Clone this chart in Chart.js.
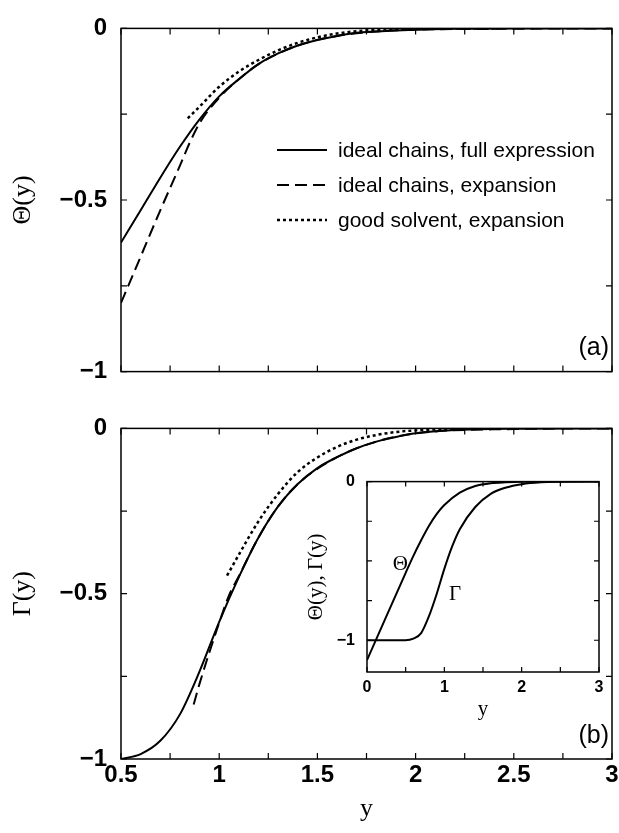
<!DOCTYPE html>
<html>
<head>
<meta charset="utf-8">
<script src="https://cdn.jsdelivr.net/npm/chart.js@4.4.0/dist/chart.umd.min.js"></script>
<style>
  body { margin: 0; background: #fff; }
  #wrap { position: relative; width: 619px; height: 833px; }
  canvas { position: absolute; }
</style>
</head>
<body>
<div id="wrap">
  <canvas id="chartA" width="619" height="400" style="left:0;top:0"></canvas>
  <canvas id="chartB" width="619" height="433" style="left:0;top:400px"></canvas>
  <canvas id="chartC" width="322" height="265" style="left:290px;top:460px"></canvas>
</div>
<script>
/* values */
const yFull       = [0.5, 0.6, 0.7, 0.8, 0.9, 1.0, 1.1, 1.2, 1.3, 1.4, 1.5, 1.6, 1.7, 1.8, 1.9, 2.0, 2.2, 2.5, 3.0];
const thetaFull   = [-0.624, -0.530, -0.435, -0.345, -0.265, -0.198, -0.148, -0.104, -0.073, -0.050, -0.034, -0.022, -0.013, -0.009, -0.006, -0.004, -0.001, 0, 0];
const yThetaExp   = [0.5, 0.6, 0.7, 0.8, 0.85, 0.9, 1.0, 1.1, 1.2, 1.4, 1.6, 1.8, 2.0, 2.5, 3.0];
const thetaExp    = [-0.80, -0.665, -0.530, -0.40, -0.333, -0.276, -0.202, -0.148, -0.104, -0.050, -0.022, -0.009, -0.004, -0.001, 0];
const yThetaGood  = [0.84, 0.9, 1.0, 1.1, 1.2, 1.3, 1.4, 1.5, 1.6, 1.7, 1.8, 2.0, 2.42];
const thetaGood   = [-0.262, -0.228, -0.170, -0.126, -0.092, -0.064, -0.042, -0.026, -0.015, -0.008, -0.004, -0.001, 0];

const gammaFull   = [-1.0, -0.985, -0.945, -0.865, -0.735, -0.585, -0.45, -0.33, -0.236, -0.168, -0.120, -0.087, -0.060, -0.040, -0.026, -0.015, -0.005, -0.001, 0];
const yGammaExp   = [0.87, 0.9, 1.0, 1.05, 1.1, 1.2, 1.3, 1.4, 1.6, 1.8, 2.0, 2.5, 3.0];
const gammaExp    = [-0.835, -0.772, -0.588, -0.505, -0.447, -0.33, -0.236, -0.168, -0.087, -0.040, -0.015, -0.002, 0];
const yGammaGood  = [1.04, 1.1, 1.2, 1.3, 1.4, 1.5, 1.6, 1.7, 1.8, 1.9, 2.0, 2.2];
const gammaGood   = [-0.445, -0.382, -0.281, -0.198, -0.132, -0.088, -0.056, -0.034, -0.020, -0.011, -0.006, -0.001];

/* inset */
const yInsetTheta = [0, 0.25, 0.5, 0.6, 0.7, 0.8, 0.9, 1.0, 1.2, 1.4, 1.6, 1.8, 2.0, 2.5, 3.0];
const insetTheta  = [-1.125, -0.85, -0.575, -0.468, -0.37, -0.28, -0.205, -0.148, -0.07, -0.028, -0.01, -0.004, -0.001, 0, 0];
const yInsetGamma = [0, 0.25, 0.5, 0.6, 0.7, 0.8, 0.9, 1.0, 1.1, 1.2, 1.4, 1.6, 1.8, 2.0, 2.25, 2.5, 3.0];
const insetGamma  = [-1, -1, -1, -0.99, -0.955, -0.85, -0.71, -0.55, -0.41, -0.30, -0.16, -0.077, -0.037, -0.016, -0.004, -0.001, 0];

const legendLabels = ['ideal chains, full expression', 'ideal chains, expansion', 'good solvent, expansion'];

const SANS  = '"Liberation Sans", Arial, Helvetica, sans-serif';
const SERIF = '"Liberation Serif", "Times New Roman", serif';

const pts = (xs, ys) => xs.map((x, i) => ({ x: x, y: ys[i] }));

const solid  = { borderColor: '#000', borderWidth: 2, pointRadius: 0, fill: false, cubicInterpolationMode: 'monotone' };
const dashed = Object.assign({}, solid, { borderDash: [12, 6] });
const dotted = Object.assign({}, solid, { borderDash: [3, 3], borderWidth: 2.5 });

// label only every "step", with a real minus sign
function labelEvery(step) {
  return function (v) {
    const k = v / step;
    if (Math.abs(k - Math.round(k)) > 1e-6) return '';
    return String(Math.round(v * 100) / 100).replace('-', '\u2212');
  };
}

// frame with inward ticks on all four sides
const framePlugin = {
  id: 'frame',
  afterDraw(chart, args, opts) {
    const ctx = chart.ctx, a = chart.chartArea;
    const len = opts.len || 6;
    const sx = chart.scales.x, sy = chart.scales.y;
    ctx.save();
    ctx.strokeStyle = '#000';
    ctx.lineWidth = 1.5;
    ctx.strokeRect(a.left, a.top, a.right - a.left, a.bottom - a.top);
    ctx.lineWidth = 1.2;
    ctx.beginPath();
    sx.ticks.forEach(t => {
      const px = sx.getPixelForValue(t.value);
      ctx.moveTo(px, a.bottom); ctx.lineTo(px, a.bottom - len);
      ctx.moveTo(px, a.top);    ctx.lineTo(px, a.top + len);
    });
    sy.ticks.forEach(t => {
      const py = sy.getPixelForValue(t.value);
      ctx.moveTo(a.left, py);  ctx.lineTo(a.left + len, py);
      ctx.moveTo(a.right, py); ctx.lineTo(a.right - len, py);
    });
    ctx.stroke();
    ctx.restore();
  }
};

// panel tag, legend, curve names
const notesPlugin = {
  id: 'notes',
  afterDraw(chart, args, opts) {
    const ctx = chart.ctx, a = chart.chartArea;
    ctx.save();
    ctx.fillStyle = '#000';
    ctx.strokeStyle = '#000';
    if (opts.tag) {
      ctx.font = '25px ' + SANS;
      ctx.textAlign = 'right';
      ctx.textBaseline = 'middle';
      ctx.fillText(opts.tag, a.right - 3, a.bottom - 23);
    }
    if (opts.legend) {
      const rows = [150, 185, 220];
      chart.data.datasets.forEach((ds, i) => {
        ctx.lineWidth = ds.borderWidth;
        ctx.setLineDash(ds.borderDash || []);
        ctx.beginPath();
        ctx.moveTo(277, rows[i]); ctx.lineTo(327, rows[i]);
        ctx.stroke();
        ctx.setLineDash([]);
        ctx.font = '21px ' + SANS;
        ctx.textAlign = 'left';
        ctx.textBaseline = 'middle';
        ctx.fillText(ds.label, 338, rows[i] + 1);
      });
    }
    if (opts.names) {
      ctx.font = '21px ' + SERIF;
      ctx.textAlign = 'center';
      ctx.textBaseline = 'middle';
      opts.names.forEach(n => {
        ctx.fillText(n.text, chart.scales.x.getPixelForValue(n.x), chart.scales.y.getPixelForValue(n.y));
      });
    }
    ctx.restore();
  }
};

Chart.register(framePlugin, notesPlugin);

const base = { responsive: false, animation: false, devicePixelRatio: 1, events: [] };
const noGrid = { display: false, drawTicks: false };

// panel (a)
new Chart(document.getElementById('chartA'), {
  type: 'line',
  data: {
    datasets: [
      Object.assign({ label: legendLabels[0], data: pts(yFull, thetaFull) }, solid),
      Object.assign({ label: legendLabels[1], data: pts(yThetaExp, thetaExp) }, dashed),
      Object.assign({ label: legendLabels[2], data: pts(yThetaGood, thetaGood) }, dotted)
    ]
  },
  options: Object.assign({}, base, {
    layout: { padding: { left: 0, top: 15, right: 7, bottom: 0 } },
    plugins: { legend: { display: false }, tooltip: { enabled: false },
               frame: { len: 6 }, notes: { tag: '(a)', legend: true } },
    scales: {
      x: { type: 'linear', min: 0.5, max: 3, grid: noGrid, border: { display: false },
           ticks: { stepSize: 0.25, display: false },
           afterFit: s => { s.height = 19; s.paddingLeft = 0; s.paddingRight = 0; } },
      y: { type: 'linear', min: -1, max: 0, grid: noGrid, border: { display: false },
           ticks: { stepSize: 0.25, autoSkip: false, padding: 14, color: '#000',
                    font: { family: SANS, size: 24, weight: 'bold' }, callback: labelEvery(0.5) },
           title: { display: true, text: '\u0398(y)', color: '#000',
                    font: { family: SERIF, size: 26 }, padding: { top: 8, bottom: 0 } },
           afterFit: s => { s.width = 121; } }
    }
  })
});

// panel (b)
new Chart(document.getElementById('chartB'), {
  type: 'line',
  data: {
    datasets: [
      Object.assign({ label: legendLabels[0], data: pts(yFull, gammaFull) }, solid),
      Object.assign({ label: legendLabels[1], data: pts(yGammaExp, gammaExp) }, dashed),
      Object.assign({ label: legendLabels[2], data: pts(yGammaGood, gammaGood) }, dotted)
    ]
  },
  options: Object.assign({}, base, {
    layout: { padding: { left: 0, top: 9, right: 7, bottom: 0 } },
    plugins: { legend: { display: false }, tooltip: { enabled: false },
               frame: { len: 6 }, notes: { tag: '(b)' } },
    scales: {
      x: { type: 'linear', min: 0.5, max: 3, grid: noGrid, border: { display: false },
           ticks: { stepSize: 0.25, autoSkip: false, maxRotation: 0, minRotation: 0, padding: 2,
                    color: '#000', font: { family: SANS, size: 24, weight: 'bold' }, callback: labelEvery(0.5) },
           title: { display: true, text: 'y', color: '#000',
                    font: { family: SERIF, size: 26 }, padding: { top: 0, bottom: 8 } },
           afterFit: s => { s.height = 74; s.paddingLeft = 0; s.paddingRight = 0; } },
      y: { type: 'linear', min: -1, max: 0, grid: noGrid, border: { display: false },
           ticks: { stepSize: 0.25, autoSkip: false, padding: 14, color: '#000',
                    font: { family: SANS, size: 24, weight: 'bold' }, callback: labelEvery(0.5) },
           title: { display: true, text: '\u0393(y)', color: '#000',
                    font: { family: SERIF, size: 26 }, padding: { top: 8, bottom: 0 } },
           afterFit: s => { s.width = 121; } }
    }
  })
});

// inset
new Chart(document.getElementById('chartC'), {
  type: 'line',
  data: {
    datasets: [
      Object.assign({ label: '\u0398', data: pts(yInsetTheta, insetTheta) }, solid),
      Object.assign({ label: '\u0393', data: pts(yInsetGamma, insetGamma) }, solid)
    ]
  },
  options: Object.assign({}, base, {
    layout: { padding: { left: 0, top: 19, right: 13, bottom: 0 } },
    plugins: { legend: { display: false }, tooltip: { enabled: false },
               frame: { len: 5 },
               notes: { names: [ { text: '\u0398', x: 0.43, y: -0.52 }, { text: '\u0393', x: 1.14, y: -0.71 } ] } },
    scales: {
      x: { type: 'linear', min: 0, max: 3, grid: noGrid, border: { display: false },
           ticks: { stepSize: 0.5, autoSkip: false, maxRotation: 0, minRotation: 0, padding: 6,
                    color: '#000', font: { family: SANS, size: 16, weight: 'bold' }, callback: labelEvery(1) },
           title: { display: true, text: 'y', color: '#000',
                    font: { family: SERIF, size: 21 }, padding: { top: 0, bottom: 3 } },
           afterFit: s => { s.height = 53; s.paddingLeft = 0; s.paddingRight = 0; } },
      y: { type: 'linear', min: -1.2, max: 0, grid: noGrid, border: { display: false },
           ticks: { stepSize: 0.25, includeBounds: false, autoSkip: false, padding: 12, color: '#000',
                    font: { family: SANS, size: 16, weight: 'bold' }, callback: labelEvery(1) },
           title: { display: true, text: '\u0398(y), \u0393(y)', color: '#000',
                    font: { family: SERIF, size: 21 }, padding: { top: 14, bottom: 0 } },
           afterFit: s => { s.width = 77; } }
    }
  })
});
</script>
</body>
</html>
